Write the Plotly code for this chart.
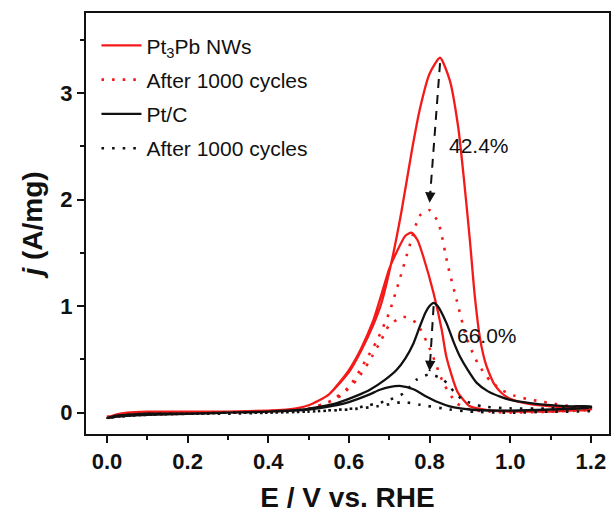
import plotly.graph_objects as go

# ---------------------------------------------------------------
# CV curves (forward scan 0 -> 1.2 V, backward scan 1.2 -> 0 V)
# ---------------------------------------------------------------
PT3PB_E_FWD = [0.00, 0.02, 0.05, 0.10, 0.20, 0.30, 0.40, 0.45, 0.50, 0.55, 0.60, 0.63, 0.66,
               0.68, 0.706, 0.73, 0.758, 0.776, 0.80, 0.826, 0.85, 0.871, 0.885, 0.90, 0.912,
               0.925, 0.94, 0.96, 0.98, 1.00, 1.05, 1.10, 1.15, 1.20]
PT3PB_J_FWD = [-0.05, -0.02, 0.00, 0.01, 0.01, 0.01, 0.02, 0.03, 0.07, 0.17, 0.38, 0.58, 0.82,
               1.02, 1.42, 1.88, 2.50, 2.85, 3.18, 3.33, 3.12, 2.68, 2.20, 1.62, 1.10,
               0.70, 0.45, 0.27, 0.18, 0.13, 0.08, 0.06, 0.05, 0.05]
PT3PB_E_BWD = [1.20, 1.15, 1.10, 1.05, 1.00, 0.95, 0.92, 0.90, 0.87, 0.842, 0.83, 0.81, 0.784,
               0.77, 0.755, 0.74, 0.72, 0.70, 0.68, 0.66, 0.63, 0.60, 0.55, 0.50, 0.45, 0.40,
               0.30, 0.20, 0.10, 0.05, 0.02, 0.00]
PT3PB_J_BWD = [0.03, 0.02, 0.01, 0.01, 0.01, 0.02, 0.04, 0.06, 0.19, 0.52, 0.78, 1.12, 1.47,
               1.62, 1.69, 1.66, 1.52, 1.35, 1.10, 0.86, 0.60, 0.40, 0.17, 0.07, 0.03, 0.02,
               0.01, 0.00, -0.01, -0.02, -0.03, -0.04]

PT3PB_AGED_E_FWD = [0.00, 0.02, 0.05, 0.10, 0.20, 0.30, 0.40, 0.45, 0.50, 0.55, 0.60, 0.64, 0.67,
                    0.70, 0.725, 0.75, 0.776, 0.80, 0.822, 0.846, 0.867, 0.892, 0.92, 0.95, 0.98,
                    1.01, 1.04, 1.07, 1.10, 1.15, 1.20]
PT3PB_AGED_J_FWD = [-0.04, -0.02, -0.01, 0.00, 0.00, 0.00, 0.01, 0.02, 0.04, 0.10, 0.24, 0.48, 0.68,
                    0.94, 1.24, 1.56, 1.85, 1.90, 1.78, 1.37, 1.06, 0.70, 0.46, 0.30, 0.21,
                    0.16, 0.13, 0.11, 0.09, 0.06, 0.04]
PT3PB_AGED_E_BWD = [1.20, 1.10, 1.00, 0.95, 0.90, 0.867, 0.834, 0.805, 0.768, 0.735, 0.70, 0.68,
                    0.65, 0.62, 0.58, 0.55, 0.50, 0.45, 0.40, 0.30, 0.20, 0.10, 0.05, 0.00]
PT3PB_AGED_J_BWD = [0.03, 0.01, 0.00, 0.01, 0.03, 0.09, 0.28, 0.56, 0.84, 0.90, 0.82, 0.68,
                    0.48, 0.31, 0.16, 0.10, 0.04, 0.02, 0.01, 0.00, -0.01, -0.02, -0.03, -0.05]

PTC_E_FWD = [0.00, 0.02, 0.05, 0.10, 0.20, 0.30, 0.40, 0.487, 0.57, 0.62, 0.652, 0.69, 0.718,
             0.74, 0.76, 0.775, 0.79, 0.80, 0.81, 0.82, 0.842, 0.86, 0.875, 0.895, 0.917, 0.945,
             0.975, 1.00, 1.05, 1.10, 1.15, 1.20]
PTC_J_FWD = [-0.05, -0.03, -0.02, -0.01, -0.01, 0.00, 0.01, 0.03, 0.09, 0.16, 0.215, 0.31, 0.40,
             0.51, 0.65, 0.80, 0.94, 1.00, 1.03, 1.00, 0.84, 0.66, 0.53, 0.40, 0.28, 0.20,
             0.15, 0.12, 0.09, 0.07, 0.06, 0.06]
PTC_E_BWD = [1.20, 1.10, 1.00, 0.90, 0.85, 0.82, 0.793, 0.76, 0.73, 0.70, 0.677, 0.65, 0.60,
             0.57, 0.50, 0.40, 0.30, 0.20, 0.10, 0.05, 0.02, 0.00]
PTC_J_BWD = [0.05, 0.03, 0.02, 0.03, 0.06, 0.10, 0.15, 0.22, 0.25, 0.24, 0.215, 0.17, 0.10,
             0.07, 0.03, 0.01, 0.00, -0.01, -0.02, -0.03, -0.04, -0.05]

PTC_AGED_E_FWD = [0.00, 0.05, 0.10, 0.20, 0.30, 0.40, 0.50, 0.61, 0.65, 0.693, 0.735, 0.768, 0.80,
                  0.834, 0.86, 0.883, 0.93, 1.00, 1.10, 1.20]
PTC_AGED_J_FWD = [-0.05, -0.02, -0.01, -0.01, 0.00, 0.00, 0.01, 0.04, 0.07, 0.11, 0.18, 0.31, 0.36,
                  0.31, 0.20, 0.12, 0.06, 0.04, 0.04, 0.04]
PTC_AGED_E_BWD = [1.20, 1.10, 1.00, 0.90, 0.85, 0.776, 0.735, 0.70, 0.67, 0.60, 0.50, 0.40, 0.30,
                  0.20, 0.10, 0.05, 0.00]
PTC_AGED_J_BWD = [0.02, 0.01, 0.00, 0.01, 0.03, 0.075, 0.10, 0.08, 0.06, 0.03, 0.01, 0.00, -0.01,
                  -0.01, -0.02, -0.03, -0.05]

LOSS_LABELS = ["42.4%", "66.0%"]

RED = "#f41a1a"
BLACK = "#111111"
FONT = "Liberation Sans, Arial, sans-serif"

fig = go.Figure()

series = [
    ("Pt<sub>3</sub>Pb NWs", PT3PB_E_FWD + PT3PB_E_BWD, PT3PB_J_FWD + PT3PB_J_BWD, RED, "solid"),
    ("After 1000 cycles", PT3PB_AGED_E_FWD + PT3PB_AGED_E_BWD,
     PT3PB_AGED_J_FWD + PT3PB_AGED_J_BWD, RED, "dot"),
    ("Pt/C", PTC_E_FWD + PTC_E_BWD, PTC_J_FWD + PTC_J_BWD, BLACK, "solid"),
    ("After 1000 cycles", PTC_AGED_E_FWD + PTC_AGED_E_BWD,
     PTC_AGED_J_FWD + PTC_AGED_J_BWD, BLACK, "dot"),
]

for i, (name, e, j, color, style) in enumerate(series):
    if style == "dot":
        line = dict(color=color, width=2.6, dash="2.6px,8px", shape="spline", smoothing=0.6)
    else:
        line = dict(color=color, width=2.3, shape="spline", smoothing=0.6)
    fig.add_trace(go.Scatter(x=e, y=j, mode="lines", name=name, line=line,
                             legendgroup=f"g{i}"))


# dashed arrows from fresh peak down to aged peak
def peak(e, j):
    k = max(range(len(j)), key=lambda n: j[n])
    return e[k], j[k]


pairs = [
    ((PT3PB_E_FWD, PT3PB_J_FWD), (PT3PB_AGED_E_FWD, PT3PB_AGED_J_FWD), 0.05, 0.07),
    ((PTC_E_FWD, PTC_J_FWD), (PTC_AGED_E_FWD, PTC_AGED_J_FWD), 0.03, 0.03),
]
for (fe, fj), (ae, aj), top_gap, tip_gap in pairs:
    x0, y0 = peak(fe, fj)
    x1, y1 = peak(ae, aj)
    y0 -= top_gap
    y1 += tip_gap
    fig.add_trace(go.Scatter(x=[x0, x1], y=[y0, y1], mode="lines", showlegend=False,
                             line=dict(color=BLACK, width=2, dash="9px,7px"),
                             hoverinfo="skip"))
    f = 0.12 / (y0 - y1)
    fig.add_annotation(x=x1, y=y1, ax=x1 + (x0 - x1) * f, ay=y1 + (y0 - y1) * f,
                       xref="x", yref="y", axref="x", ayref="y", text="",
                       showarrow=True, arrowhead=2, arrowsize=1.3, arrowwidth=1.6,
                       arrowcolor=BLACK)

fig.add_annotation(x=0.922, y=2.51, text=LOSS_LABELS[0], showarrow=False,
                   font=dict(family=FONT, size=21, color=BLACK))
fig.add_annotation(x=0.942, y=0.72, text=LOSS_LABELS[1], showarrow=False,
                   font=dict(family=FONT, size=21, color=BLACK))

axis_common = dict(
    showline=True, linewidth=2, linecolor=BLACK, mirror=True,
    ticks="outside", ticklen=7, tickwidth=2, tickcolor=BLACK,
    showgrid=False, zeroline=False, automargin=False,
    tickfont=dict(family=FONT, size=22, color=BLACK, weight="bold"),
)

fig.update_xaxes(
    range=[-0.052, 1.245], tick0=0, dtick=0.2, tickformat=".1f",
    minor=dict(ticks="outside", dtick=0.1, ticklen=4, tickwidth=2, tickcolor=BLACK),
    title=dict(text="E / V vs. RHE", standoff=14,
               font=dict(family=FONT, size=28, color=BLACK, weight="bold")),
    **axis_common,
)
fig.update_yaxes(
    range=[-0.2, 3.75], tick0=0, dtick=1,
    minor=dict(ticks="outside", dtick=0.5, ticklen=4, tickwidth=2, tickcolor=BLACK),
    title=dict(text="<i>j</i> (A/mg)", standoff=10,
               font=dict(family=FONT, size=28, color=BLACK, weight="bold")),
    **axis_common,
)

fig.update_layout(
    width=612, height=515,
    margin=dict(l=86, r=3, t=13, b=81),
    plot_bgcolor="white", paper_bgcolor="white",
    showlegend=True,
    legend=dict(x=0.02, y=0.971, xanchor="left", yanchor="top", itemwidth=40,
                bgcolor="rgba(0,0,0,0)", borderwidth=0, tracegroupgap=4,
                font=dict(family=FONT, size=21, color=BLACK)),
)

# drop the page's default body margin so the figure sits at the window origin
fig.write_html("out.html", config={"displayModeBar": False},
               post_script="document.body.style.margin = '0px';")
